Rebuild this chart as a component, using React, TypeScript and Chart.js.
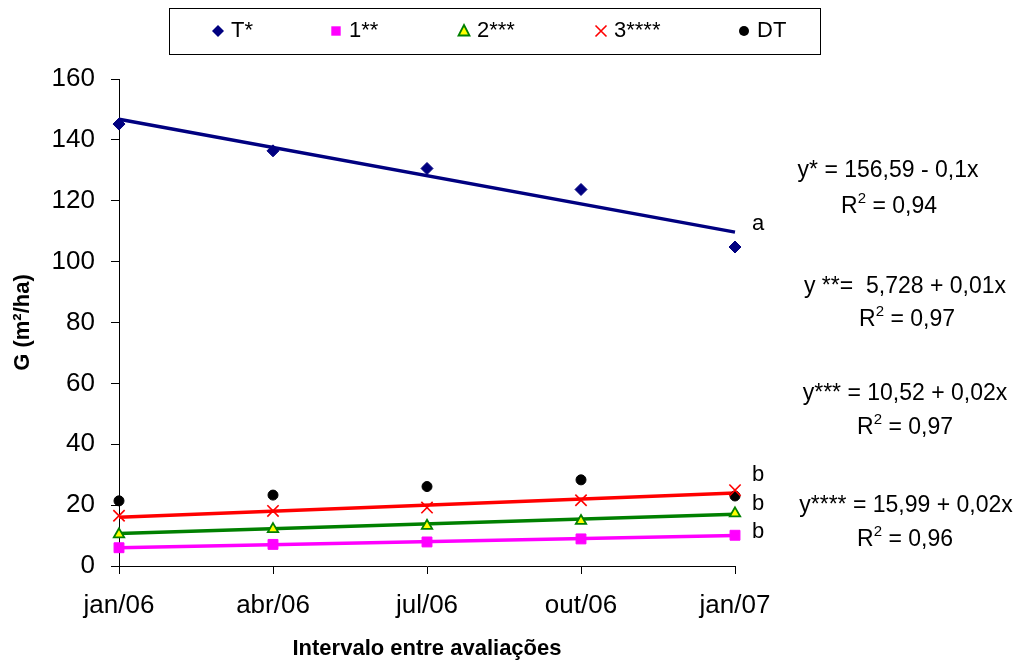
import React, { useEffect, useRef } from 'react';
import { Chart, registerables } from 'chart.js';

Chart.register(...registerables);

// ---------- data ----------
const xLabels = ['jan/06', 'abr/06', 'jul/06', 'out/06', 'jan/07'];
const xIndex = [0, 1, 2, 3, 4];
const seriesT = [145.2, 136.4, 130.6, 123.7, 104.8];
const series1 = [6.0, 7.1, 7.9, 8.9, 10.1];
const series2 = [10.4, 12.1, 13.2, 14.8, 17.3];
const series3 = [16.5, 18.1, 19.2, 21.6, 24.9];
const seriesDT = [21.4, 23.3, 26.1, 28.3, 23.0];
// trend line end points (first and last category)
const trendX = [0, 4];
const trendT = [146.8, 109.7];
const trend1 = [6.0, 10.0];
const trend2 = [10.7, 17.0];
const trend3 = [16.0, 24.0];
const yMin = 0;
const yMax = 160;
const yStep = 20;

const legendLabels = ['T*', '1**', '2***', '3****', 'DT'];
const letterLabels = ['a', 'b', 'b', 'b'];
const letterValues = [112.5, 30.0, 20.5, 11.2];
const equations = [
  { eq: 'y* = 156,59 - 0,1x', r2: '0,94' },
  { eq: 'y **=  5,728 + 0,01x', r2: '0,97' },
  { eq: 'y*** = 10,52 + 0,02x', r2: '0,97' },
  { eq: 'y**** = 15,99 + 0,02x', r2: '0,96' },
];

const FONT = '"Liberation Sans", Arial, Helvetica, sans-serif';

const NAVY = '#000080';
const MAGENTA = '#FF00FF';
const GREEN = '#008000';
const YELLOW = '#FFFF00';
const RED = '#FF0000';
const BLACK = '#000000';

function pts(xs: number[], ys: number[]) {
  return ys.map((y, i) => ({ x: xs[i], y }));
}

function drawMarker(ctx: CanvasRenderingContext2D, kind: string, x: number, y: number) {
  ctx.save();
  ctx.beginPath();
  if (kind === 'diamond') {
    const r = 6;
    ctx.moveTo(x, y - r);
    ctx.lineTo(x + r, y);
    ctx.lineTo(x, y + r);
    ctx.lineTo(x - r, y);
    ctx.closePath();
    ctx.fillStyle = NAVY;
    ctx.fill();
  } else if (kind === 'square') {
    const s = 4.7;
    ctx.rect(x - s, y - s, 2 * s, 2 * s);
    ctx.fillStyle = MAGENTA;
    ctx.fill();
  } else if (kind === 'triangle') {
    ctx.moveTo(x, y - 6);
    ctx.lineTo(x + 5.5, y + 4.5);
    ctx.lineTo(x - 5.5, y + 4.5);
    ctx.closePath();
    ctx.fillStyle = YELLOW;
    ctx.fill();
    ctx.lineWidth = 1.8;
    ctx.strokeStyle = GREEN;
    ctx.stroke();
  } else if (kind === 'cross') {
    const r = 5.5;
    ctx.moveTo(x - r, y - r);
    ctx.lineTo(x + r, y + r);
    ctx.moveTo(x + r, y - r);
    ctx.lineTo(x - r, y + r);
    ctx.lineWidth = 1.6;
    ctx.strokeStyle = RED;
    ctx.stroke();
  } else {
    ctx.arc(x, y, 5, 0, Math.PI * 2);
    ctx.fillStyle = BLACK;
    ctx.fill();
  }
  ctx.restore();
}

const legendKinds = ['diamond', 'square', 'triangle', 'cross', 'circle'];
const legendMarkerX = [218, 336, 464, 601, 744];

const customLegend = {
  id: 'customLegend',
  afterDraw(chart: any) {
    const ctx: CanvasRenderingContext2D = chart.ctx;
    ctx.save();
    ctx.strokeStyle = '#000';
    ctx.lineWidth = 1;
    ctx.strokeRect(169.5, 8.5, 651, 46);
    ctx.font = `22px ${FONT}`;
    ctx.fillStyle = '#000';
    ctx.textBaseline = 'middle';
    ctx.textAlign = 'left';
    legendLabels.forEach((lab, i) => {
      drawMarker(ctx, legendKinds[i], legendMarkerX[i], 31);
      ctx.fillText(lab, legendMarkerX[i] + 13, 31);
    });
    ctx.restore();
  },
};

const annotations = {
  id: 'annotations',
  afterDraw(chart: any) {
    const ctx: CanvasRenderingContext2D = chart.ctx;
    const xs = chart.scales.x;
    const ys = chart.scales.y;
    ctx.save();
    ctx.fillStyle = '#000';
    ctx.textBaseline = 'middle';
    ctx.textAlign = 'left';
    ctx.font = `22px ${FONT}`;
    const lx = xs.getPixelForValue(4) + 17;
    letterLabels.forEach((l, i) => {
      ctx.fillText(l, lx, ys.getPixelForValue(letterValues[i]));
    });

    const eqCx = [888, 905, 905, 906];
    const eqY = [171, 287, 394, 506];
    const r2Cx = [889, 907, 905, 905];
    const r2Y = [207, 320, 428, 540];
    const fs = 23;
    equations.forEach((e, i) => {
      ctx.font = `${fs}px ${FONT}`;
      ctx.textAlign = 'center';
      ctx.fillText(e.eq, eqCx[i], eqY[i]);
      // R^2 = value
      ctx.textAlign = 'left';
      const rest = ' = ' + e.r2;
      ctx.font = `${fs}px ${FONT}`;
      const wR = ctx.measureText('R').width;
      const wRest = ctx.measureText(rest).width;
      ctx.font = `${Math.round(fs * 0.65)}px ${FONT}`;
      const w2 = ctx.measureText('2').width;
      const total = wR + w2 + wRest;
      let x = r2Cx[i] - total / 2;
      ctx.font = `${fs}px ${FONT}`;
      ctx.fillText('R', x, r2Y[i]);
      x += wR;
      ctx.font = `${Math.round(fs * 0.65)}px ${FONT}`;
      ctx.fillText('2', x, r2Y[i] - 8);
      x += w2;
      ctx.font = `${fs}px ${FONT}`;
      ctx.fillText(rest, x, r2Y[i]);
    });
    ctx.restore();
  },
};

export default function App() {
  const ref = useRef<HTMLCanvasElement | null>(null);

  useEffect(() => {
    if (!ref.current) return;
    const scatter = (data: number[], style: any, radius: number, color: string, border: string, bw: number) => ({
      type: 'scatter' as const,
      data: pts(xIndex, data),
      showLine: false,
      pointStyle: style,
      pointRadius: radius,
      pointBackgroundColor: color,
      pointBorderColor: border,
      pointBorderWidth: bw,
      clip: false,
      order: 0,
    });
    const trend = (data: number[], color: string) => ({
      type: 'line' as const,
      data: pts(trendX, data),
      borderColor: color,
      borderWidth: 3.5,
      pointRadius: 0,
      fill: false,
      clip: false,
      order: 1,
    });

    const chart = new Chart(ref.current, {
      type: 'scatter',
      data: {
        datasets: [
          trend(trendT, NAVY),
          trend(trend3, RED),
          trend(trend2, GREEN),
          trend(trend1, MAGENTA),
          scatter(seriesT, 'rectRot', 6, NAVY, NAVY, 1),
          scatter(series1, 'rect', 7, MAGENTA, MAGENTA, 1),
          scatter(series2, 'triangle', 6, YELLOW, GREEN, 1.8),
          scatter(series3, 'crossRot', 8, RED, RED, 1.6),
          scatter(seriesDT, 'circle', 5, BLACK, BLACK, 1),
        ] as any,
      },
      options: {
        animation: false,
        responsive: false,
        maintainAspectRatio: false,
        layout: { padding: { left: 0, right: 286, top: 79, bottom: 0 } },
        plugins: {
          legend: { display: false },
          tooltip: { enabled: false },
        },
        scales: {
          x: {
            type: 'linear',
            min: 0,
            max: 4,
            afterFit: (s: any) => {
              s.height = 96;
            },
            afterBuildTicks: (s: any) => {
              s.ticks = xIndex.map((v) => ({ value: v }));
            },
            ticks: {
              stepSize: 1,
              color: '#000',
              font: { family: FONT, size: 26 },
              padding: 16,
              maxRotation: 0,
              callback: (v: any) => xLabels[Number(v)] ?? '',
            },
            grid: { drawOnChartArea: false, drawTicks: true, tickLength: 8, color: '#000' },
            border: { display: true, color: '#000', width: 1 },
            title: {
              display: true,
              text: 'Intervalo entre avaliações',
              color: '#000',
              font: { family: FONT, size: 22, weight: 'bold' },
              padding: { top: 8, bottom: 0 },
            },
          },
          y: {
            type: 'linear',
            min: yMin,
            max: yMax,
            afterFit: (s: any) => {
              s.width = 119;
            },
            ticks: {
              stepSize: yStep,
              color: '#000',
              font: { family: FONT, size: 26 },
              padding: 16,
            },
            grid: { drawOnChartArea: false, drawTicks: true, tickLength: 8, color: '#000' },
            border: { display: true, color: '#000', width: 1 },
            title: {
              display: true,
              text: 'G (m²/ha)',
              color: '#000',
              font: { family: FONT, size: 22, weight: 'bold' },
              padding: { top: 10, bottom: 0 },
            },
          },
        },
      },
      plugins: [customLegend, annotations],
    });
    return () => chart.destroy();
  }, []);

  return (
    <div style={{ position: 'absolute', left: 0, top: 0, width: 1021, height: 662, background: '#fff' }}>
      <canvas ref={ref} width={1021} height={662} style={{ width: 1021, height: 662 }} />
    </div>
  );
}
